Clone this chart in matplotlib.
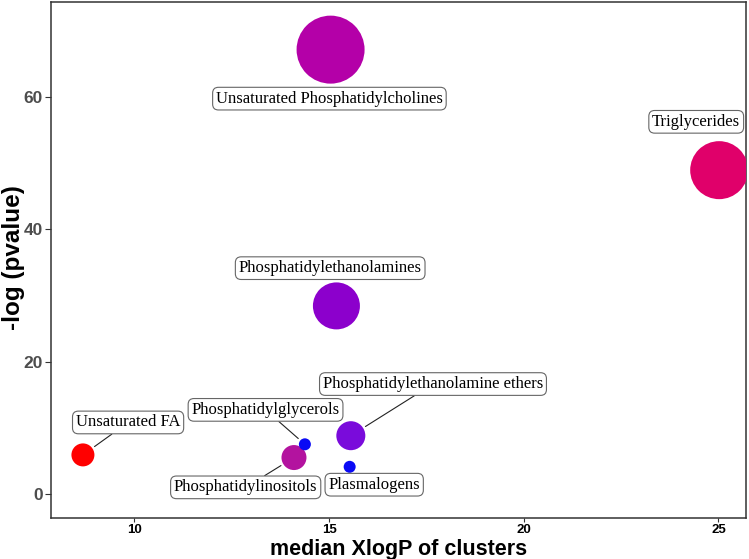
import numpy as np
import matplotlib
matplotlib.use("Agg")
import matplotlib.pyplot as plt

# lipid clusters: median XlogP, -log(pvalue), bubble size, colour
clusters = ["Unsaturated FA", "Phosphatidylinositols", "Phosphatidylglycerols",
            "Phosphatidylethanolamine ethers", "Plasmalogens",
            "Phosphatidylethanolamines", "Unsaturated Phosphatidylcholines",
            "Triglycerides"]
xlogp = [8.68, 14.10, 14.38, 15.56, 15.53, 15.19, 15.04, 25.02]
neglogp = [5.9, 5.5, 7.5, 8.8, 4.1, 28.4, 67.1, 48.9]
cluster_size = [23, 25, 12, 29, 12, 47, 68, 58]
colors = ["#FF0000", "#B3139F", "#0A0AF5", "#7A0BDB", "#0A0AF5",
          "#8C00CC", "#B400A8", "#E0006A"]

# label placement (repel-style), and whether a segment is drawn
label_x = [9.84, 12.86, 13.37, 17.67, 16.16, 15.03, 15.01, 24.43]
label_y = [10.8, 1.0, 12.7, 16.6, 1.4, 34.1, 59.7, 56.2]
segment = [True, True, True, True, False, False, False, False]

fig = plt.figure(figsize=(7.49, 5.59), dpi=100)
ax = fig.add_axes([0.0686, 0.0725, 0.928, 0.924])

px_to_pt = 72 / fig.dpi
sizes = [(d * px_to_pt) ** 2 for d in cluster_size]
ax.scatter(xlogp, neglogp, s=sizes, c=colors, linewidths=0, zorder=3)

for i, name in enumerate(clusters):
    arrow = None
    if segment[i]:
        arrow = dict(arrowstyle="-", color="#222222", lw=0.8,
                     shrinkA=0, shrinkB=cluster_size[i] * px_to_pt / 2 + 2)
    ax.annotate(name, xy=(xlogp[i], neglogp[i]), xytext=(label_x[i], label_y[i]),
                textcoords="data", ha="center", va="center",
                fontsize=12, family="Liberation Serif", color="black",
                bbox=dict(boxstyle="round,pad=0.2,rounding_size=0.35",
                          fc="white", ec="#666666", lw=0.8),
                arrowprops=arrow, zorder=4)

ax.set_xlim(7.87, 25.72)
ax.set_ylim(-3.7, 74.3)
ax.set_xticks([10, 15, 20, 25])
ax.set_yticks([0, 20, 40, 60])

for sp in ax.spines.values():
    sp.set_color("#333333")
    sp.set_linewidth(1.1)

ax.tick_params(axis="both", width=0.8, color="#333333")
ax.tick_params(axis="x", length=3, pad=1)
ax.tick_params(axis="y", length=4, pad=2)
for lab in ax.get_xticklabels():
    lab.set_fontfamily("Liberation Sans")
    lab.set_fontweight("bold")
    lab.set_fontsize(9.5)
    lab.set_color("black")
for lab in ax.get_yticklabels():
    lab.set_fontfamily("Liberation Sans")
    lab.set_fontweight("bold")
    lab.set_fontsize(12.5)
    lab.set_color("#4D4D4D")

ax.set_xlabel("median XlogP of clusters", fontsize=15.5, fontweight="bold",
              family="Liberation Sans")
ax.xaxis.label.set_va("baseline")
ax.xaxis.set_label_coords(0.5, -0.0705)
ax.set_ylabel("-log (pvalue)", fontsize=17.5, fontweight="bold",
              family="Liberation Sans")
ax.yaxis.label.set_va("center")
ax.yaxis.set_label_coords(-0.054, 0.506)

fig.savefig("out.png", dpi=100)
